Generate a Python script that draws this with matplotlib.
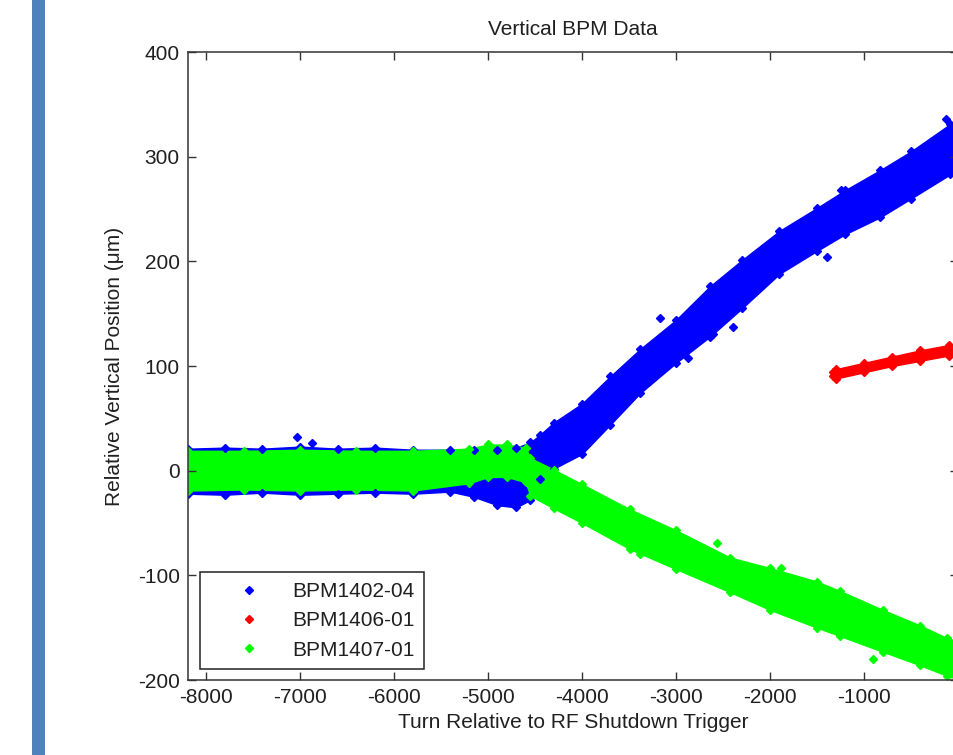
import matplotlib.pyplot as plt
from matplotlib.lines import Line2D
from matplotlib.patches import Rectangle

plt.rcParams['font.family'] = ['Liberation Sans', 'DejaVu Sans']
plt.rcParams['axes.unicode_minus'] = False

# BPM1402-04 (blue) - envelope of the scatter band
blue_turn = [-8192, -7800, -7400, -7000, -6600, -6200, -5800, -5400, -5150, -4900, -4700, -4550,
             -4450, -4300, -4000, -3700, -3383, -3000, -2640, -2300, -1900, -1500, -1200, -830, -500, -85, 0]
blue_top = [21, 22, 21, 23, 21, 22, 20, 20, 20, 20, 22, 27,
            34, 46, 64, 90, 116, 144, 176, 201, 229, 251, 268, 287, 305, 331, 335]
blue_bot = [-22, -23, -21, -23, -22, -21, -22, -20, -25, -33, -35, -28,
            -8, 2, 16, 44, 74, 103, 128, 155, 188, 210, 226, 242, 260, 283, 287]
blue_out_turn = [-7032, -6872, -3170, -2394, -2872, -2606, -128, -1394, -1245]
blue_out_pos = [32, 26, 146, 137, 108, 131, 336, 204, 268]

# BPM1406-01 (red)
red_turn = [-1330, -1300, -1000, -700, -400, -100, 0]
red_top = [94, 97, 103, 109, 115, 120, 122]
red_bot = [90, 88, 94, 100, 105, 110, 112]
red_out_turn = []
red_out_pos = []

# BPM1407-01 (green)
green_turn = [-8192, -7600, -7000, -6400, -5800, -5200, -5000, -4800, -4600, -4550, -4300, -4000,
              -3489, -3000, -2426, -2000, -1500, -1255, -800, -400, -117, 0]
green_top = [19, 19, 20, 19, 19, 21, 25, 25, 22, 12, 1, -13,
             -37, -57, -83, -93, -106, -115, -133, -148, -160, -163]
green_bot = [-19, -18, -19, -18, -19, -12, -6, -6, -11, -24, -36, -50,
             -75, -94, -116, -133, -150, -158, -173, -186, -196, -199]
green_out_turn = [-904, -1883, -2564, -3383]
green_out_pos = [-180, -93, -69, -80]

labels = ['BPM1402-04', 'BPM1406-01', 'BPM1407-01']
colors = ['#0000ff', '#ff0000', '#00ff00']
x_ticks = [-8000, -7000, -6000, -5000, -4000, -3000, -2000, -1000, 0]
y_ticks = [-200, -100, 0, 100, 200, 300, 400]

series = [(blue_turn, blue_top, blue_bot, blue_out_turn, blue_out_pos),
          (red_turn, red_top, red_bot, red_out_turn, red_out_pos),
          (green_turn, green_top, green_bot, green_out_turn, green_out_pos)]

text_color = '#202020'

# Create figure
fig = plt.figure(figsize=(9.54, 7.55), dpi=100)
fig.add_artist(Rectangle((32 / 954, 0), 13 / 954, 1, transform=fig.transFigure,
                         facecolor='#4f81bd', edgecolor='none'))

ax = fig.add_axes([188 / 954, 75 / 755, 770 / 954, 628 / 755])

# Bands + edge markers for each BPM
for i, (t, top, bot, ot, op) in enumerate(series):
    c = colors[i]
    ax.fill_between(t, bot, top, facecolor=c, edgecolor=c, linewidth=1.0)
    ax.plot(t, top, ls='none', marker='D', ms=4, color=c)
    ax.plot(t, bot, ls='none', marker='D', ms=4, color=c)
    ax.plot(ot, op, ls='none', marker='D', ms=4, color=c)

# Axes settings
ax.set_xlim(-8192, 0)
ax.set_ylim(-200, 400)
ax.set_xticks(x_ticks)
ax.set_yticks(y_ticks)
ax.tick_params(direction='in', top=True, right=True, length=6, width=1,
               labelsize=15, pad=6, colors='#333333', labelcolor=text_color)
for sp in ax.spines.values():
    sp.set_linewidth(1.1)
    sp.set_color('#333333')

ax.set_title('Vertical BPM Data', fontsize=15, color=text_color, pad=12)
ax.set_xlabel('Turn Relative to RF Shutdown Trigger', fontsize=15, color=text_color, labelpad=4)
ax.set_ylabel('Relative Vertical Position (μm)', fontsize=15, color=text_color, labelpad=10)

# Legend
handles = [Line2D([], [], ls='none', marker='D', ms=4, color=c) for c in colors]
leg = ax.legend(handles, labels, loc='lower left', bbox_to_anchor=(12 / 770, 11 / 628),
                borderaxespad=0, fontsize=15, fancybox=False, framealpha=1,
                handlelength=3.8, handletextpad=0.2, borderpad=0.45, labelspacing=0.5)
leg.get_frame().set_edgecolor('#222222')
leg.get_frame().set_linewidth(1.1)
for txt in leg.get_texts():
    txt.set_color(text_color)

plt.savefig('out.png', dpi=100)
